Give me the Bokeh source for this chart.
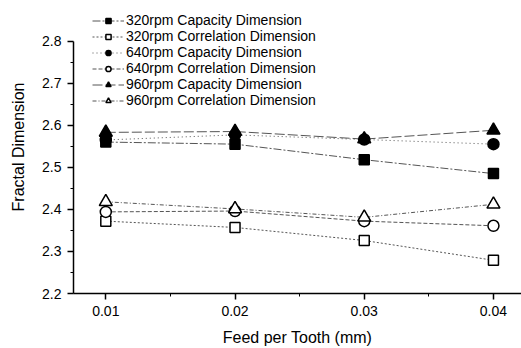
from bokeh.plotting import figure
from bokeh.models import Range1d, Legend, LegendItem, FixedTicker
from bokeh.embed import file_html
from bokeh.resources import INLINE

feed = [0.01, 0.02, 0.03, 0.04]
cap_320 = [2.560, 2.555, 2.518, 2.485]
corr_320 = [2.372, 2.357, 2.326, 2.279]
cap_640 = [2.565, 2.577, 2.566, 2.555]
corr_640 = [2.394, 2.396, 2.372, 2.361]
cap_960 = [2.583, 2.585, 2.567, 2.588]
corr_960 = [2.418, 2.401, 2.381, 2.412]

labels = [
    "320rpm Capacity Dimension",
    "320rpm Correlation Dimension",
    "640rpm Capacity Dimension",
    "640rpm Correlation Dimension",
    "960rpm Capacity Dimension",
    "960rpm Correlation Dimension",
]
series = [cap_320, corr_320, cap_640, corr_640, cap_960, corr_960]
markers = ["square", "square", "circle", "circle", "triangle", "triangle"]
filled = [True, False, True, False, True, False]
sizes = [10, 10, 11, 11, 13, 13]
dashes = ["8 2 2 2", "2 2", "1 3", "4 2", "10 3", "4 2 1 2"]

FONT = "Liberation Sans"

p = figure(width=521, height=348, output_backend="svg", toolbar_location=None,
           x_range=Range1d(0.0075, 0.04217), y_range=Range1d(2.2, 2.2 + 296 / 425),
           min_border_left=73, min_border_right=0, min_border_top=0, min_border_bottom=52)
p.outline_line_color = None
p.grid.visible = False
p.background_fill_color = "white"
p.border_fill_color = "white"

items = []
line_rs = []
for lab, ys, m, f, s, d in zip(labels, series, markers, filled, sizes, dashes):
    lr = p.line(feed, ys, line_color="#555555", line_width=1, line_dash=d)
    line_rs.append((lab, lr, ys, m, f, s))
for lab, lr, ys, m, f, s in line_rs:
    sr = p.scatter(feed, ys, marker=m, size=s, line_color="black", line_width=1.5,
                   fill_color="black" if f else "white")
    items.append(LegendItem(label=lab, renderers=[lr, sr]))

leg = Legend(items=items, location=(19, 185), padding=0, margin=0, spacing=0,
             glyph_width=32, glyph_height=13, label_height=12, label_standoff=2,
             label_text_font=FONT, label_text_font_size="14px", label_text_color="black",
             border_line_color=None, background_fill_alpha=0)
p.add_layout(leg)

p.xaxis.ticker = FixedTicker(ticks=feed, minor_ticks=[0.015, 0.025, 0.035])
p.yaxis.ticker = FixedTicker(ticks=[2.2, 2.3, 2.4, 2.5, 2.6, 2.7, 2.8],
                             minor_ticks=[2.25, 2.35, 2.45, 2.55, 2.65, 2.75])
p.yaxis.bounds = (2.2, 2.8)
p.yaxis.major_label_overrides = {2.2: "2.2", 2.3: "2.3", 2.4: "2.4", 2.5: "2.5",
                                 2.6: "2.6", 2.7: "2.7", 2.8: "2.8"}
p.xaxis.major_label_overrides = {0.01: "0.01", 0.02: "0.02", 0.03: "0.03", 0.04: "0.04"}

for ax in (p.xaxis[0], p.yaxis[0]):
    ax.axis_line_color = "black"
    ax.axis_line_width = 1.5
    ax.major_tick_line_color = "black"
    ax.minor_tick_line_color = "black"
    ax.major_tick_line_width = 1.5
    ax.major_tick_in = 0
    ax.major_tick_out = 6
    ax.minor_tick_in = 0
    ax.minor_tick_out = 3
    ax.major_label_text_font = FONT
    ax.major_label_text_font_size = "14px"
    ax.major_label_text_color = "black"
    ax.axis_label_text_font = FONT
    ax.axis_label_text_font_size = "16px"
    ax.axis_label_text_font_style = "normal"
    ax.axis_label_text_color = "black"

p.xaxis.axis_label = "Feed per Tooth (mm)"
p.yaxis.axis_label = "Fractal Dimension"
p.xaxis.major_label_standoff = 6
p.yaxis.major_label_standoff = 6
p.xaxis.axis_label_standoff = 10
p.yaxis.axis_label_standoff = 12

open("out.html", "w").write(file_html(p, INLINE))
